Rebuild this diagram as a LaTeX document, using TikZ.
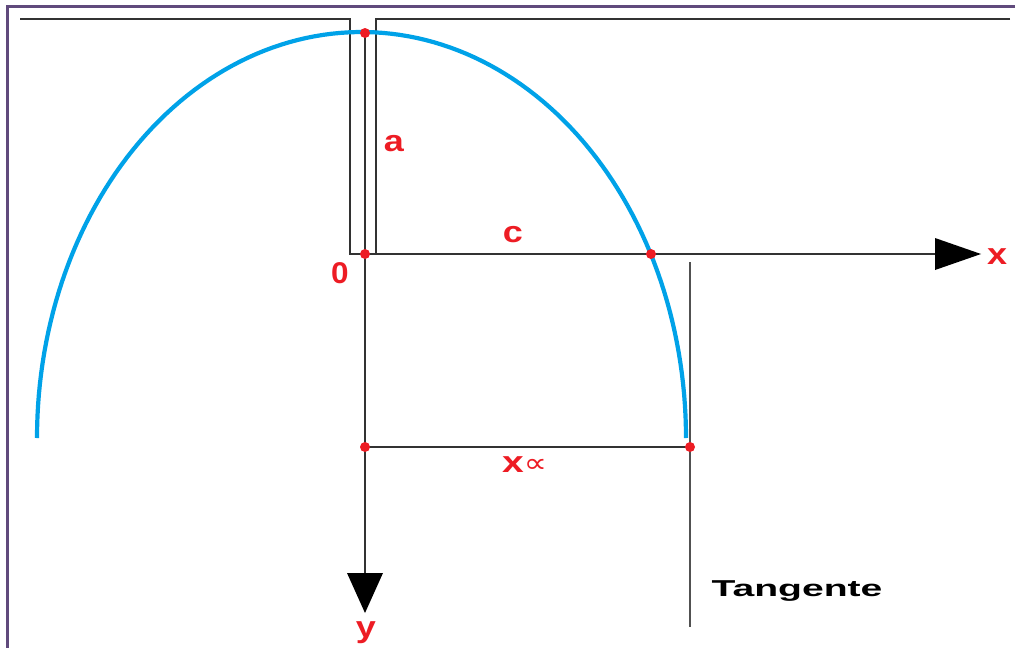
\documentclass[tikz,border=0pt]{standalone}
\usepackage{fontspec}
\setmainfont{Liberation Sans}
\newfontfamily\symfont{DejaVu Sans}
\usetikzlibrary{arrows.meta}
\definecolor{framepurple}{RGB}{96,74,124}
\definecolor{axisgrey}{RGB}{50,50,50}
\definecolor{curveblue}{RGB}{0,162,232}
\definecolor{markred}{RGB}{237,28,36}
\tikzset{
  frame/.style={draw=framepurple,line width=3pt},
  axis/.style={draw=axisgrey,line width=1.4pt},
  helper/.style={draw=axisgrey!85,line width=1.8pt},
  curve/.style={draw=curveblue,line width=4.2pt},
  redlabel/.style={text=markred,font=\bfseries\fontsize{30}{30}\selectfont,
    inner sep=0pt,anchor=base},
  blacklabel/.style={text=black,font=\bfseries\fontsize{23}{23}\selectfont,
    inner sep=0pt,anchor=base}
}
\newcommand{\wide}[2][1.2]{\scalebox{#1}[1]{#2}}
\begin{document}
\begin{tikzpicture}[x=1pt,y=-1pt]
  \useasboundingbox (0,0) rectangle (1016,648);
  % points
  \coordinate (top) at (365,33);
  \coordinate (orig) at (365,254);
  \coordinate (cross) at (651,254);
  \coordinate (foot) at (365,447);
  \coordinate (tanfoot) at (690,447);
  \coordinate (tantop) at (690,262);
  \coordinate (tanend) at (690,627);
  \coordinate (xtip) at (981,254);
  \coordinate (ytip) at (365,613);
  % frame
  \draw[frame] (1015,6) -- (7,6) -- (7,648);
  % slot and axes
  \draw[axis] (20,19) -- (350,19) -- (350,254) -- (orig);
  \draw[axis] (1010,19) -- (376,19) -- (376,254);
  \draw[axis,-{Triangle[length=46pt,width=32pt,fill=black,line width=0pt]}]
    (orig) -- (xtip);
  \draw[axis,-{Triangle[length=40pt,width=36pt,fill=black,line width=0pt]}]
    (top) -- (ytip);
  \draw[axis] (foot) -- (tanfoot);
  \draw[helper] (tantop) -- (tanend);
  % curve
  \draw[curve] plot[domain=180:0,samples=120]
    ({361.5+324.5*cos(\x)},{438-406*sin(\x)});
  % dots
  \foreach \p in {top,orig,cross,foot,tanfoot}
    \fill[markred] (\p) circle (5pt);
  % labels
  \node[redlabel] (la) at (394,151) {\wide{a}};
  \node[redlabel] (lc) at (513,242) {\wide{c}};
  \node[redlabel] (lzero) at (340,283) {\wide[1.05]{0}};
  \node[redlabel] (lx) at (997,264) {\wide{x}};
  \node[redlabel] (ly) at (366,637) {\wide{y}};
  \node[redlabel,anchor=base west] (lxinf) at (502,472)
    {\wide[1.3]{x}{\symfont\fontsize{27}{27}\selectfont\mdseries\wide{∝}}};
  \node[blacklabel] (ltan) at (797,596) {\wide[1.7]{Tangente}};
\end{tikzpicture}
\end{document}
